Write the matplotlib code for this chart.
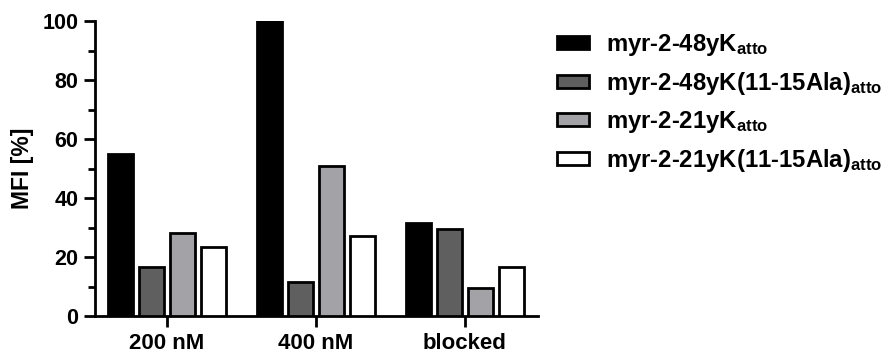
import matplotlib
matplotlib.use("Agg")
import matplotlib.pyplot as plt
from matplotlib.patches import Patch
import numpy as np

plt.rcParams['font.family'] = ['Liberation Sans', 'DejaVu Sans']
plt.rcParams['font.weight'] = 'bold'
plt.rcParams['mathtext.fontset'] = 'custom'
plt.rcParams['mathtext.rm'] = 'Liberation Sans:bold'
plt.rcParams['mathtext.bf'] = 'Liberation Sans:bold'
plt.rcParams['mathtext.it'] = 'Liberation Sans:bold'

categories = ['200 nM', '400 nM', 'blocked']
series_names = [r'myr-2-48yK$_{\mathrm{atto}}$',
                r'myr-2-48yK(11-15Ala)$_{\mathrm{atto}}$',
                r'myr-2-21yK$_{\mathrm{atto}}$',
                r'myr-2-21yK(11-15Ala)$_{\mathrm{atto}}$']
v_48 = [55.0, 100.0, 31.5]
v_48ala = [16.5, 11.6, 29.4]
v_21 = [28.0, 51.0, 9.4]
v_21ala = [23.5, 27.1, 16.5]
series_values = [v_48, v_48ala, v_21, v_21ala]
colors = ['#000000', '#5f5f5f', '#a3a3a7', '#ffffff']

fig = plt.figure(figsize=(8.9, 3.54), dpi=100)
ax = fig.add_axes([95/890, 1-316/354, (538-95)/890, (316-21)/354])

x = np.arange(len(categories))
stride = 0.208
width = 0.168
for i, (vals, col) in enumerate(zip(series_values, colors)):
    ax.bar(x + (i - 1.5) * stride, vals, width=width, color=col,
           edgecolor='black', linewidth=2.0, label=series_names[i], zorder=3)

ax.set_xlim(-0.48, 2.49)
ax.set_ylim(0, 100)
ax.set_yticks([0, 20, 40, 60, 80, 100])
ax.set_yticks([10, 30, 50, 70, 90], minor=True)
ax.set_xticks(x)
ax.set_xticklabels(categories)
for s in ['top', 'right']:
    ax.spines[s].set_visible(False)
for s in ['left', 'bottom']:
    ax.spines[s].set_linewidth(2.0)
ax.tick_params(axis='both', which='major', width=2.0, length=8, pad=4)
ax.tick_params(axis='y', which='major', labelsize=15.5)
ax.tick_params(axis='y', which='minor', width=2.0, length=5)
ax.tick_params(axis='x', pad=4, labelsize=16)
ax.set_ylabel('MFI [%]', fontsize=16.5, fontweight='bold', labelpad=6)

handles = [Patch(facecolor=c, edgecolor='black', linewidth=2.0) for c in colors]
fig.legend(handles, series_names, loc='upper left', bbox_to_anchor=(557/890, 1-32/354),
           frameon=False, fontsize=17.2, handlelength=1.33, handleheight=0.5,
           handletextpad=0.72, labelspacing=0.5, borderpad=0, borderaxespad=0)

fig.savefig('out.png', dpi=100)
